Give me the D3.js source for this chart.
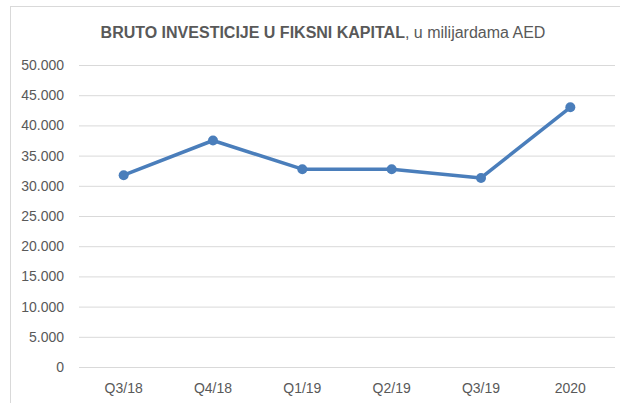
<!DOCTYPE html>
<html><head><meta charset="utf-8">
<script src="https://cdn.jsdelivr.net/npm/d3@7"></script>
<style>body{margin:0;background:#fff}svg{display:block}</style>
</head><body>
<svg id="c" width="620" height="403"></svg>
<script>
const categories = ["Q3/18","Q4/18","Q1/19","Q2/19","Q3/19","2020"];
const values = [31750, 37500, 32750, 32750, 31300, 43000];
const yTicks = [0,5000,10000,15000,20000,25000,30000,35000,40000,45000,50000];
const titleBold = "BRUTO INVESTICIJE U FIKSNI KAPITAL";
const titleRest = ", u milijardama AED";

const svg = d3.select("#c");
const font = "'Liberation Sans', Arial, sans-serif";
const textCol = "#595959";

svg.append("rect").attr("x",10.5).attr("y",6.5).attr("width",640).attr("height",420)
  .attr("fill","none").attr("stroke","#d9d9d9").attr("stroke-width",1);

const x = d3.scaleBand().domain(categories).range([79,615]);
const y = d3.scaleLinear().domain([0,50000]).range([367,65]);

const fmt = v => v === 0 ? "0" : d3.format(",")(v).replace(/,/g,".");

const ya = svg.append("g").attr("transform","translate(79,0)")
  .call(d3.axisLeft(y).tickValues(yTicks).tickSize(-(615-79)).tickFormat(fmt).tickPadding(15));
ya.select(".domain").remove();
ya.selectAll(".tick line").attr("stroke","#d9d9d9").attr("stroke-width",1);
ya.selectAll(".tick text").attr("fill",textCol).style("font-family",font).style("font-size","14px");

const xa = svg.append("g").attr("transform","translate(0,367)")
  .call(d3.axisBottom(x).tickSize(0).tickPadding(16));
xa.select(".domain").remove();
xa.selectAll(".tick text").attr("fill",textCol).style("font-family",font).style("font-size","14px");

const line = d3.line().x((d,i)=>x(categories[i])+x.bandwidth()/2).y(d=>y(d));
svg.append("path").datum(values).attr("d",line).attr("fill","none")
  .attr("stroke","#4a7ebb").attr("stroke-width",3.5).attr("stroke-linejoin","round");
svg.selectAll("circle.pt").data(values).enter().append("circle").attr("class","pt")
  .attr("cx",(d,i)=>x(categories[i])+x.bandwidth()/2).attr("cy",d=>y(d)).attr("r",5)
  .attr("fill","#4a7ebb");

const t = svg.append("text").attr("x",323).attr("y",38).attr("text-anchor","middle")
  .attr("fill",textCol).style("font-family",font).style("font-size","16px");
t.append("tspan").attr("font-weight","bold").text(titleBold);
t.append("tspan").text(titleRest);
</script>
</body></html>
